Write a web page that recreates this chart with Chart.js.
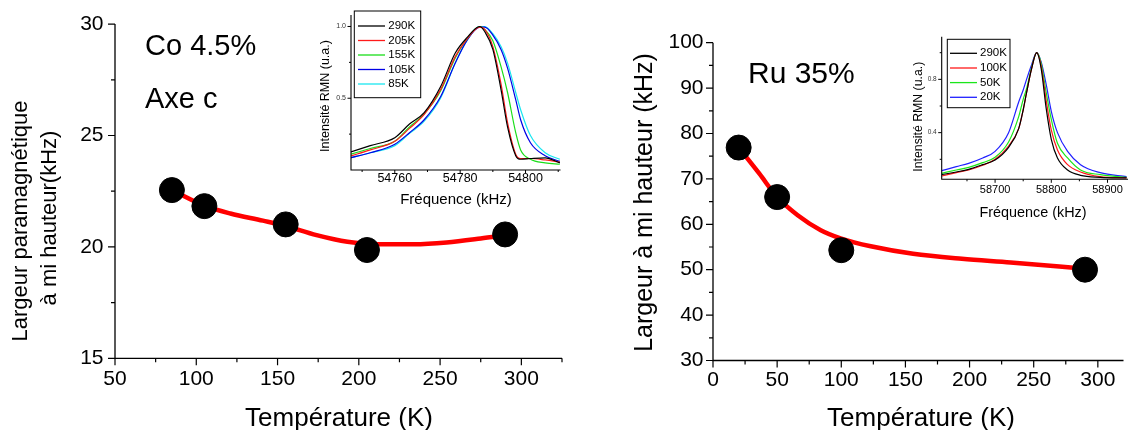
<!DOCTYPE html>
<html><head><meta charset="utf-8">
<script src="https://cdn.jsdelivr.net/npm/chart.js@4.4.1/dist/chart.umd.min.js"></script>
<style>
html,body{margin:0;padding:0;background:#fff;}
#wrap{position:relative;width:1137px;height:430px;overflow:hidden;background:#fff;}
canvas{position:absolute;}
</style></head><body>
<div id="wrap">
<canvas id="cMainL"></canvas>
<canvas id="cMainR"></canvas>
<canvas id="cInsL"></canvas>
<canvas id="cInsR"></canvas>
</div>
<script>
const FONT = "'Liberation Sans', Arial, sans-serif";

// ---- Main left: Co 4.5%
const coTemps  = [85, 105, 155, 205, 290];
const coWidths = [22.55, 21.83, 21.01, 19.86, 20.56];
const coFitT = [85, 105, 121, 141, 155, 174, 193, 211, 234, 254, 275, 290];
const coFitW = [22.55, 21.85, 21.5, 21.18, 20.94, 20.53, 20.23, 20.12, 20.12, 20.2, 20.38, 20.53];
const coXTicks = [50, 100, 150, 200, 250, 300];
const coXMinor = [75, 125, 175, 225, 275, 325];
const coYTicks = [15, 20, 25, 30];
const coYMinor = [17.5, 22.5, 27.5];

// ---- Main right: Ru 35%
const ruTemps  = [20, 50, 100, 290];
const ruWidths = [76.9, 66.0, 54.3, 50.0];
const ruFitT = [20, 36, 50, 66, 84, 100, 123, 156, 194, 232, 270, 290];
const ruFitW = [76.9, 71.2, 66.0, 62.0, 58.7, 56.85, 55.15, 53.5, 52.4, 51.6, 50.7, 50.2];
const ruXTicks = [0, 50, 100, 150, 200, 250, 300];
const ruXMinor = [25, 75, 125, 175, 225, 275];
const ruYTicks = [30, 40, 50, 60, 70, 80, 90, 100];
const ruYMinor = [35, 45, 55, 65, 75, 85, 95];

// ---- Inset left (Co spectra)
const coLabels = ['290K', '205K', '155K', '105K', '85K'];
const coColors = ['#000000', '#ff1a1a', '#1ade1a', '#0000e6', '#1ae6f0'];
const coFreq = [54746.5, 54752.5, 54760, 54764.5, 54769, 54774, 54778.5, 54782, 54786, 54787.5, 54790, 54792.5, 54794.5, 54797, 54798.5, 54801.5, 54806, 54810.5];
const co290 = [0.125, 0.17, 0.225, 0.32, 0.40, 0.58, 0.815, 0.92, 1.0, 0.965, 0.84, 0.56, 0.30, 0.10, 0.075, 0.08, 0.085, 0.05];
const co205 = [0.097, 0.14, 0.20, 0.29, 0.387, 0.56, 0.79, 0.91, 0.995, 0.98, 0.86, 0.60, 0.33, 0.11, 0.08, 0.08, 0.07, 0.055];
const co155 = [0.11, 0.15, 0.20, 0.30, 0.39, 0.55, 0.78, 0.91, 1.0, 0.98, 0.90, 0.72, 0.54, 0.26, 0.14, 0.075, 0.05, 0.04];
const co105 = [0.085, 0.12, 0.18, 0.26, 0.35, 0.51, 0.745, 0.90, 0.995, 0.995, 0.94, 0.84, 0.71, 0.49, 0.35, 0.19, 0.10, 0.06];
const co85  = [0.085, 0.12, 0.17, 0.255, 0.34, 0.50, 0.745, 0.90, 1.0, 1.0, 0.95, 0.86, 0.745, 0.54, 0.42, 0.24, 0.12, 0.075];
const coInsXTicks = [54760, 54780, 54800];
const coInsXMinor = [54750, 54770, 54790, 54810];
const coInsYTicks = [0.5, 1.0];
const coInsYMinor = [0.25, 0.75];

// ---- Inset right (Ru spectra)
const ruLabels = ['290K', '100K', '50K', '20K'];
const ruColors = ['#000000', '#ff1a1a', '#1ae61a', '#2020ff'];
const ruFreq = [58605, 58631, 58653, 58678, 58700, 58724, 58742, 58750, 58756, 58765, 58774, 58782, 58791, 58800, 58811, 58829, 58852, 58887, 58934];
const ru290 = [0.085, 0.105, 0.125, 0.16, 0.195, 0.29, 0.43, 0.57, 0.70, 0.88, 1.0, 0.88, 0.58, 0.35, 0.21, 0.12, 0.08, 0.065, 0.06];
const ru100 = [0.075, 0.10, 0.12, 0.155, 0.20, 0.30, 0.43, 0.57, 0.70, 0.88, 1.0, 0.90, 0.64, 0.42, 0.27, 0.16, 0.105, 0.07, 0.06];
const ru50  = [0.095, 0.12, 0.14, 0.175, 0.215, 0.33, 0.52, 0.65, 0.73, 0.89, 1.0, 0.92, 0.70, 0.50, 0.32, 0.21, 0.12, 0.085, 0.065];
const ru20  = [0.115, 0.145, 0.17, 0.21, 0.26, 0.40, 0.63, 0.72, 0.80, 0.91, 1.0, 0.93, 0.76, 0.56, 0.40, 0.26, 0.16, 0.10, 0.07];
const ruInsXTicks = [58700, 58800, 58900];
const ruInsXMinor = [58650, 58750, 58850];
const ruInsYTicks = [0.4, 0.8];
const ruInsYMinor = [0.2, 0.6, 1.0];

function xy(xs, ys) { return xs.map((x, i) => ({x: x, y: ys[i]})); }

function decoPlugin(o) {
  return {
    id: 'deco_' + o.id,
    afterDraw(chart) {
      const ctx = chart.ctx, a = chart.chartArea;
      const xs = chart.scales.x, ys = chart.scales.y;
      ctx.save();
      ctx.strokeStyle = '#000';
      ctx.lineWidth = o.axisLW;
      ctx.beginPath();
      ctx.moveTo(a.left, a.top); ctx.lineTo(a.left, a.bottom); ctx.lineTo(a.right, a.bottom);
      ctx.stroke();
      ctx.lineWidth = o.tickLW;
      ctx.beginPath();
      o.x.ticks.forEach(v => { const p = xs.getPixelForValue(v); ctx.moveTo(p, a.bottom); ctx.lineTo(p, a.bottom + o.major); });
      o.x.minor.forEach(v => { const p = xs.getPixelForValue(v); ctx.moveTo(p, a.bottom); ctx.lineTo(p, a.bottom + o.minor); });
      o.y.ticks.forEach(v => { const p = ys.getPixelForValue(v); ctx.moveTo(a.left, p); ctx.lineTo(a.left - o.major, p); });
      o.y.minor.forEach(v => { const p = ys.getPixelForValue(v); ctx.moveTo(a.left, p); ctx.lineTo(a.left - o.minor, p); });
      ctx.stroke();
      // legend
      if (o.legend) {
        const L = o.legend;
        ctx.fillStyle = '#fff';
        ctx.fillRect(L.box[0] - o.ox, L.box[1] - o.oy, L.box[2] - L.box[0], L.box[3] - L.box[1]);
        ctx.lineWidth = 1;
        ctx.strokeStyle = '#000';
        ctx.strokeRect(L.box[0] - o.ox, L.box[1] - o.oy, L.box[2] - L.box[0], L.box[3] - L.box[1]);
        ctx.font = L.size + 'px ' + FONT;
        ctx.textAlign = 'left'; ctx.textBaseline = 'middle';
        L.labels.forEach((lab, i) => {
          const yy = L.rows[i] - o.oy;
          ctx.strokeStyle = L.colors[i]; ctx.lineWidth = 1.3;
          ctx.beginPath(); ctx.moveTo(L.line[0] - o.ox, yy); ctx.lineTo(L.line[1] - o.ox, yy); ctx.stroke();
          ctx.fillStyle = '#000';
          ctx.fillText(lab, L.tx - o.ox, yy);
        });
      }
      // texts
      (o.texts || []).forEach(t => {
        ctx.save();
        ctx.fillStyle = '#000';
        ctx.font = t.size + 'px ' + FONT;
        ctx.textAlign = t.align || 'center';
        ctx.textBaseline = t.base || 'alphabetic';
        ctx.translate(t.x - o.ox, t.y - o.oy);
        if (t.rot) ctx.rotate(-Math.PI / 2);
        ctx.fillText(t.t, 0, 0);
        ctx.restore();
      });
      ctx.restore();
    }
  };
}

function build(o) {
  const cv = document.getElementById(o.id);
  cv.width = o.w; cv.height = o.h;
  cv.style.left = o.ox + 'px'; cv.style.top = o.oy + 'px';
  cv.style.width = o.w + 'px'; cv.style.height = o.h + 'px';
  const A = {l: o.area[0] - o.ox, t: o.area[1] - o.oy, r: o.area[2] - o.ox, b: o.area[3] - o.oy};
  return new Chart(cv, {
    type: 'scatter',
    data: {datasets: o.datasets},
    options: {
      responsive: false, animation: false, events: [],
      devicePixelRatio: 1,
      layout: {padding: {left: 0, top: A.t, right: o.w - A.r, bottom: 0}},
      plugins: {legend: {display: false}, tooltip: {enabled: false}},
      scales: {
        x: {
          type: 'linear', min: o.x.min, max: o.x.max,
          grid: {display: false, drawTicks: false}, border: {display: false},
          afterFit(s) { s.height = o.h - A.b; },
          afterBuildTicks(s) { s.ticks = o.x.ticks.map(v => ({value: v})); },
          ticks: {padding: o.x.pad, font: {family: FONT, size: o.x.size}, color: '#000',
                  maxRotation: 0, autoSkip: false, callback: o.x.fmt}
        },
        y: {
          type: 'linear', min: o.y.min, max: o.y.max,
          grid: {display: false, drawTicks: false}, border: {display: false},
          afterFit(s) { s.width = A.l; },
          afterBuildTicks(s) { s.ticks = o.y.ticks.map(v => ({value: v})); },
          ticks: {padding: o.y.pad, font: {family: FONT, size: o.y.size}, color: o.y.color || '#000',
                  autoSkip: false, callback: o.y.fmt}
        }
      }
    },
    plugins: [decoPlugin(o)]
  });
}

const intFmt = v => String(v);
const oneFmt = v => v.toFixed(1);

function specSets(freq, series, colors, labels) {
  return series.map((s, i) => ({
    label: labels[i], data: xy(freq, s), showLine: true, borderColor: colors[i],
    borderWidth: 1.2, pointRadius: 0, fill: false, cubicInterpolationMode: 'monotone'
  }));
}

// Left main
build({
  id: 'cMainL', ox: 0, oy: 0, w: 580, h: 430, area: [115, 24, 562, 358.3],
  axisLW: 1.3, tickLW: 1.2, major: 7, minor: 4,
  x: {min: 50, max: 325, ticks: coXTicks, minor: coXMinor, pad: 8, size: 21, fmt: intFmt},
  y: {min: 15, max: 30, ticks: coYTicks, minor: coYMinor, pad: 11.5, size: 21, fmt: intFmt},
  datasets: [
    {label: 'Co points', data: xy(coTemps, coWidths), pointRadius: 12.5, pointBackgroundColor: '#000',
     pointBorderColor: '#000', showLine: false},
    {label: 'Co fit', data: xy(coFitT, coFitW), showLine: true, borderColor: '#ff0000', borderWidth: 4.5,
     pointRadius: 0, cubicInterpolationMode: 'monotone'}
  ],
  texts: [
    {t: 'Co 4.5%', x: 145, y: 55, size: 29, align: 'left'},
    {t: 'Axe c', x: 145, y: 108, size: 29, align: 'left'},
    {t: 'Température (K)', x: 339, y: 425.5, size: 26},
    {t: 'Largeur paramagnétique', x: 21, y: 221, size: 22, base: 'middle', rot: true},
    {t: 'à mi hauteur(kHz)', x: 50, y: 218, size: 22, base: 'middle', rot: true}
  ]
});

// Right main
build({
  id: 'cMainR', ox: 580, oy: 0, w: 557, h: 430, area: [713, 42.7, 1132, 360.5],
  axisLW: 1.3, tickLW: 1.2, major: 7, minor: 4,
  x: {min: 0, max: 320, ticks: ruXTicks, minor: ruXMinor, pad: 7, size: 21, fmt: intFmt},
  y: {min: 30, max: 100, ticks: ruYTicks, minor: ruYMinor, pad: 9.5, size: 21, fmt: intFmt},
  datasets: [
    {label: 'Ru points', data: xy(ruTemps, ruWidths), pointRadius: 12.5, pointBackgroundColor: '#000',
     pointBorderColor: '#000', showLine: false},
    {label: 'Ru fit', data: xy(ruFitT, ruFitW), showLine: true, borderColor: '#ff0000', borderWidth: 4.5,
     pointRadius: 0, cubicInterpolationMode: 'monotone'}
  ],
  texts: [
    {t: 'Ru 35%', x: 748, y: 83, size: 30, align: 'left'},
    {t: 'Température (K)', x: 921, y: 425.5, size: 26},
    {t: 'Largeur à mi hauteur (kHz)', x: 645, y: 202.5, size: 25, base: 'middle', rot: true}
  ]
});

// Left inset
build({
  id: 'cInsL', ox: 300, oy: 0, w: 280, h: 230, area: [351, 15, 560.5, 170],
  axisLW: 1.1, tickLW: 1, major: 3.5, minor: 2,
  x: {min: 54746.6, max: 54810.7, ticks: coInsXTicks, minor: coInsXMinor, pad: 1.5, size: 12.5, fmt: intFmt},
  y: {min: 0, max: 1.08, ticks: coInsYTicks, minor: coInsYMinor, pad: 5, size: 7, color: '#333', fmt: oneFmt},
  datasets: specSets(coFreq, [co290, co205, co155, co105, co85], coColors, coLabels),
  legend: {box: [354.3, 11, 420.7, 97.7], rows: [26, 40.5, 55, 69.5, 84], line: [358, 385], tx: 388.3,
           size: 11.5, labels: coLabels, colors: coColors},
  texts: [
    {t: 'Fréquence (kHz)', x: 456, y: 204, size: 15},
    {t: 'Intensité RMN (u.a.)', x: 326, y: 96, size: 12.5, base: 'middle', rot: true}
  ]
});

// Right inset
build({
  id: 'cInsR', ox: 890, oy: 0, w: 247, h: 230, area: [941.7, 36.7, 1128, 179.3],
  axisLW: 1.1, tickLW: 1, major: 3.5, minor: 2,
  x: {min: 58605, max: 58936.5, ticks: ruInsXTicks, minor: ruInsXMinor, pad: 4.4, size: 11, fmt: intFmt},
  y: {min: 0.05, max: 1.12, ticks: ruInsYTicks, minor: ruInsYMinor, pad: 5, size: 6.5, color: '#333', fmt: oneFmt},
  datasets: specSets(ruFreq, [ru290, ru100, ru50, ru20], ruColors, ruLabels),
  legend: {box: [947.3, 39.3, 1010, 107.7], rows: [53.3, 68, 82.6, 97.3], line: [950, 977], tx: 980,
           size: 11.5, labels: ruLabels, colors: ruColors},
  texts: [
    {t: 'Fréquence (kHz)', x: 1033, y: 217, size: 14.4},
    {t: 'Intensité RMN (u.a.)', x: 919, y: 116.7, size: 12.3, base: 'middle', rot: true}
  ]
});
</script>
</body></html>
